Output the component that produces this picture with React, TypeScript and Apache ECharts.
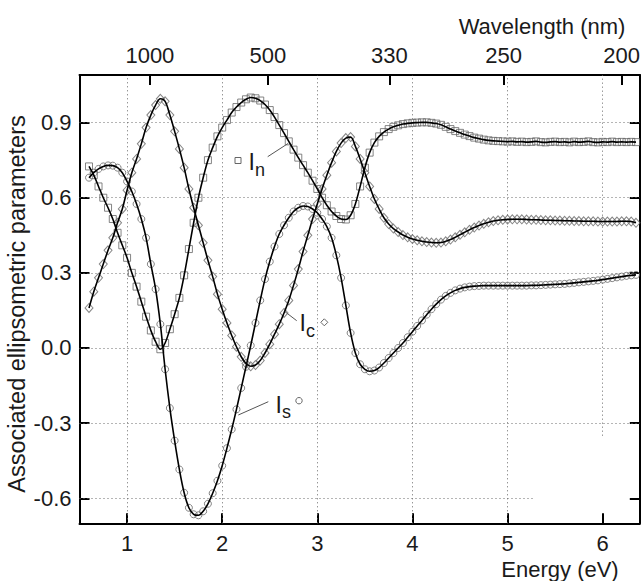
import React, { useEffect, useRef } from "react";
import * as echarts from "echarts";

// Photon energy (eV) of each measured point
const energy = [
  0.60, 0.65, 0.70, 0.75, 0.80, 0.85, 0.90, 0.95, 1.00, 1.05,
  1.10, 1.15, 1.20, 1.25, 1.30, 1.35, 1.40, 1.45, 1.50, 1.55,
  1.60, 1.65, 1.70, 1.75, 1.80, 1.85, 1.90, 1.95, 2.00, 2.05,
  2.10, 2.15, 2.20, 2.25, 2.30, 2.35, 2.40, 2.45, 2.50, 2.55,
  2.60, 2.65, 2.70, 2.75, 2.80, 2.85, 2.90, 2.95, 3.00, 3.05,
  3.10, 3.15, 3.20, 3.25, 3.30, 3.35, 3.40, 3.45, 3.50, 3.55,
  3.60, 3.65, 3.70, 3.75, 3.80, 3.85, 3.90, 3.95, 4.00, 4.05,
  4.10, 4.15, 4.20, 4.25, 4.30, 4.35, 4.40, 4.45, 4.50, 4.55,
  4.60, 4.65, 4.70, 4.75, 4.80, 4.85, 4.90, 4.95, 5.00, 5.05,
  5.10, 5.15, 5.20, 5.25, 5.30, 5.35, 5.40, 5.45, 5.50, 5.55,
  5.60, 5.65, 5.70, 5.75, 5.80, 5.85, 5.90, 5.95, 6.00, 6.05,
  6.10, 6.15, 6.20, 6.25, 6.30, 6.35,
];

// I_n (squares)
const In = [
  0.725, 0.69, 0.645, 0.60, 0.56, 0.515, 0.46, 0.41, 0.36, 0.30,
  0.245, 0.185, 0.125, 0.07, 0.025, -0.005, 0.02, 0.075, 0.135, 0.20,
  0.29, 0.395, 0.50, 0.60, 0.68, 0.75, 0.80, 0.845, 0.88, 0.91,
  0.94, 0.962, 0.98, 0.993, 1.0, 0.997, 0.988, 0.972, 0.95, 0.922,
  0.89, 0.858, 0.825, 0.792, 0.76, 0.73, 0.70, 0.668, 0.635, 0.60,
  0.57, 0.545, 0.527, 0.515, 0.513, 0.53, 0.575, 0.645, 0.72, 0.78,
  0.82, 0.845, 0.862, 0.874, 0.883, 0.889, 0.894, 0.897, 0.899, 0.90,
  0.901, 0.901, 0.899, 0.896, 0.891, 0.883, 0.874, 0.866, 0.859, 0.852,
  0.846, 0.84, 0.836, 0.832, 0.829, 0.827, 0.826, 0.825, 0.824, 0.825,
  0.823, 0.824, 0.822, 0.823, 0.825, 0.822, 0.821, 0.823, 0.824, 0.822,
  0.823, 0.821, 0.824, 0.822, 0.823, 0.825, 0.822, 0.821, 0.823, 0.822,
  0.824, 0.822, 0.823, 0.822, 0.823, 0.822,
];

// I_c (diamonds)
const Ic = [
  0.16, 0.225, 0.28, 0.335, 0.39, 0.44, 0.50, 0.555, 0.63, 0.70,
  0.755, 0.815, 0.88, 0.93, 0.97, 0.995, 0.985, 0.93, 0.865, 0.795,
  0.72, 0.635, 0.56, 0.49, 0.42, 0.35, 0.285, 0.215, 0.155, 0.10,
  0.05, 0.005, -0.035, -0.062, -0.073, -0.068, -0.05, -0.02, 0.015, 0.055,
  0.095, 0.14, 0.19, 0.25, 0.315, 0.385, 0.45, 0.515, 0.575, 0.635,
  0.69, 0.74, 0.785, 0.818, 0.838, 0.842, 0.805, 0.755, 0.70, 0.645,
  0.595, 0.555, 0.52, 0.495, 0.477, 0.463, 0.451, 0.442, 0.435, 0.43,
  0.426, 0.423, 0.421, 0.42, 0.421, 0.426, 0.433, 0.442, 0.452, 0.462,
  0.472, 0.481, 0.489, 0.496, 0.502, 0.507, 0.51, 0.512, 0.513, 0.514,
  0.514, 0.514, 0.513, 0.512, 0.512, 0.511, 0.51, 0.51, 0.509, 0.509,
  0.508, 0.508, 0.507, 0.507, 0.506, 0.506, 0.506, 0.505, 0.505, 0.505,
  0.505, 0.505, 0.506, 0.506, 0.505, 0.50,
];

// I_s (circles)
const Is = [
  0.68, 0.70, 0.715, 0.725, 0.729, 0.728, 0.72, 0.70, 0.665, 0.625,
  0.575, 0.515, 0.44, 0.335, 0.235, 0.095, -0.085, -0.24, -0.37, -0.485,
  -0.578, -0.638, -0.664, -0.668, -0.652, -0.622, -0.58, -0.53, -0.47, -0.40,
  -0.325, -0.245, -0.16, -0.075, 0.01, 0.10, 0.19, 0.275, 0.345, 0.405,
  0.455, 0.49, 0.52, 0.545, 0.56, 0.567, 0.565, 0.555, 0.54, 0.515,
  0.485, 0.44, 0.37, 0.28, 0.17, 0.06, -0.02, -0.065, -0.085, -0.093,
  -0.09, -0.078, -0.06, -0.04, -0.02, 0.0, 0.02, 0.043, 0.065, 0.088,
  0.11, 0.133, 0.155, 0.175, 0.193, 0.208, 0.22, 0.23, 0.237, 0.242,
  0.245, 0.247, 0.248, 0.249, 0.249, 0.249, 0.249, 0.249, 0.249, 0.249,
  0.249, 0.249, 0.249, 0.25, 0.25, 0.251, 0.252, 0.253, 0.254, 0.255,
  0.256, 0.258, 0.26, 0.262, 0.264, 0.266, 0.268, 0.27, 0.273, 0.276,
  0.279, 0.282, 0.285, 0.288, 0.29, 0.292,
];

const energyTicks = [1, 2, 3, 4, 5, 6];
const valueTicks = [-0.6, -0.3, 0, 0.3, 0.6, 0.9];
const wavelengthTicks = [1000, 500, 330, 250, 200];

const X_MIN = 0.5;
const X_MAX = 6.39;
const Y_MIN = -0.7;
const Y_MAX = 1.09;

const FONT = "Liberation Sans, Arial, sans-serif";
const TEXT = "#1a1a1a";
const MARK = "#666666";

export default function App() {
  const ref = useRef<HTMLDivElement>(null);

  useEffect(() => {
    if (!ref.current) return;
    const chart = echarts.init(ref.current, undefined, { renderer: "svg" });

    const wlEnergy = wavelengthTicks.map((w) => 1239.84 / w);
    const pts = (vals: number[]) => energy.map((e, i) => [e, vals[i]]);

    const gridLines: any[] = [];
    energyTicks.forEach((e) => {
      const from = e === 6 ? -0.35 : Y_MIN;
      gridLines.push([{ coord: [e, from] }, { coord: [e, Y_MAX] }]);
    });
    valueTicks.forEach((v) => {
      const to = v === -0.6 ? 5.27 : X_MAX;
      gridLines.push([{ coord: [X_MIN, v] }, { coord: [to, v] }]);
    });

    const axisLine = { show: true, onZero: false, lineStyle: { color: "#000", width: 2 } };
    const tick = (vals: number[]) => ({
      show: true,
      inside: true,
      length: 10,
      customValues: vals,
      lineStyle: { color: "#000", width: 2 },
    });
    const label = {
      fontSize: 22,
      fontFamily: FONT,
      color: TEXT,
    };

    const scatter = (name: string, vals: number[], symbol: string, size: any, withGrid = false) => {
      const s: any = {
        name,
        type: "scatter",
        data: pts(vals),
        symbol,
        symbolSize: size,
        itemStyle: { color: "rgba(0,0,0,0)", borderColor: MARK, borderWidth: 1 },
        z: 2,
        silent: true,
      };
      if (withGrid) {
        s.markLine = {
          silent: true,
          z: 1,
          symbol: ["none", "none"],
          label: { show: false },
          lineStyle: { type: [1, 3], color: "#6a6a6a", width: 1 },
          emphasis: { disabled: true },
          data: gridLines,
        };
      }
      return s;
    };
    const fit = (name: string, vals: number[]) => ({
      name: name + " fit",
      type: "line",
      data: pts(vals),
      showSymbol: false,
      smooth: 0.35,
      lineStyle: { color: "#000", width: 1.6 },
      z: 3,
      silent: true,
    });

    const txt = (x: number, y: number, text: string, size: number, extra: any = {}) => ({
      type: "text",
      x,
      y,
      silent: true,
      style: { text, fontSize: size, fontFamily: FONT, fill: TEXT, align: "left", verticalAlign: "middle", ...extra },
    });
    const leader = (x1: number, y1: number, x2: number, y2: number) => ({
      type: "line",
      silent: true,
      shape: { x1, y1, x2, y2 },
      style: { stroke: "#555", lineWidth: 1 },
    });

    chart.setOption({
      animation: false,
      backgroundColor: "#fff",
      grid: { left: 79.5, right: 1, top: 75, bottom: 57.7, containLabel: false },
      xAxis: [
        {
          type: "value",
          position: "bottom",
          min: X_MIN,
          max: X_MAX,
          axisLine,
          axisTick: tick(energyTicks),
          axisLabel: { ...label, margin: 9, customValues: energyTicks, formatter: (v: number) => String(Math.round(v)) },
          splitLine: { show: false },
        },
        {
          type: "value",
          position: "top",
          min: X_MIN,
          max: X_MAX,
          axisLine,
          axisTick: tick(wlEnergy),
          axisLabel: {
            ...label,
            margin: 9,
            customValues: wlEnergy,
            formatter: (v: number) => {
              let best = 0;
              wlEnergy.forEach((e, i) => {
                if (Math.abs(e - v) < Math.abs(wlEnergy[best] - v)) best = i;
              });
              return String(wavelengthTicks[best]);
            },
          },
          splitLine: { show: false },
        },
      ],
      yAxis: [
        {
          type: "value",
          position: "left",
          min: Y_MIN,
          max: Y_MAX,
          axisLine,
          axisTick: tick(valueTicks),
          axisLabel: { ...label, margin: 8, customValues: valueTicks, formatter: (v: number) => v.toFixed(1) },
          splitLine: { show: false },
        },
        {
          type: "value",
          position: "right",
          min: Y_MIN,
          max: Y_MAX,
          axisLine,
          axisTick: tick(valueTicks),
          axisLabel: { show: false },
          splitLine: { show: false },
        },
      ],
      series: [
        scatter("In", In, "rect", 7, true),
        scatter("Ic", Ic, "diamond", [8, 9]),
        scatter("Is", Is, "circle", 7),
        fit("In", In),
        fit("Ic", Ic),
        fit("Is", Is),
      ],
      graphic: [
        // axis titles
        txt(560, 569, "Energy (eV)", 22, { align: "center" }),
        txt(542, 26, "Wavelength (nm)", 22, { align: "center" }),
        {
          type: "text",
          x: 16.5,
          y: 304,
          rotation: Math.PI / 2,
          silent: true,
          style: {
            text: "Associated ellipsometric parameters",
            fontSize: 23.5,
            fontFamily: FONT,
            fill: TEXT,
            align: "center",
            verticalAlign: "middle",
          },
        },
        // I_n annotation
        {
          type: "rect",
          silent: true,
          shape: { x: 235, y: 157.5, width: 6, height: 6 },
          style: { fill: "none", stroke: "#666", lineWidth: 1 },
        },
        txt(248.5, 161.5, "I", 23),
        txt(255, 170, "n", 18),
        leader(267.7, 156.7, 288.3, 143.3),
        // I_c annotation
        txt(299.5, 323, "I", 23),
        txt(306, 331, "c", 18),
        {
          type: "polygon",
          silent: true,
          shape: { points: [[324.3, 318.8], [327.8, 322.3], [324.3, 325.8], [320.8, 322.3]] },
          style: { fill: "none", stroke: "#666", lineWidth: 1 },
        },
        leader(285, 311.7, 296.7, 320.7),
        // I_s annotation
        txt(275.5, 405, "I", 23),
        txt(282, 412, "s", 18),
        {
          type: "circle",
          silent: true,
          shape: { cx: 299, cy: 400.7, r: 3.2 },
          style: { fill: "none", stroke: "#666", lineWidth: 1 },
        },
        leader(238.3, 415, 268.3, 401.7),
      ],
    });

    return () => chart.dispose();
  }, []);

  return (
    <div
      ref={ref}
      style={{ position: "fixed", left: 0, top: 0, width: 643, height: 581, background: "#fff" }}
    />
  );
}
